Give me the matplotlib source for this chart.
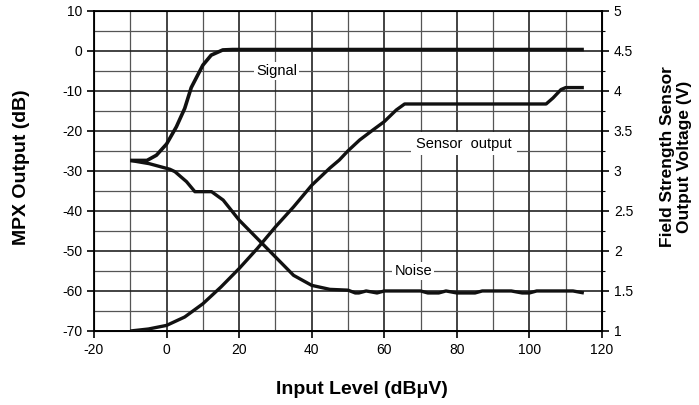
import matplotlib
matplotlib.use("Agg")
import matplotlib.pyplot as plt
from matplotlib.ticker import MultipleLocator, FuncFormatter

plt.rcParams['font.family'] = ['Liberation Sans', 'DejaVu Sans']
plt.rcParams['axes.unicode_minus'] = False

# Data
signal_x = [-10, -5.4, -2.8, 0, 2.7, 5, 6.8, 10, 12.3, 15.5, 18.2, 115]
signal_db = [-27.4, -27.4, -26.1, -23.3, -19, -14.4, -9.2, -3.6, -1.1, 0.2, 0.3, 0.3]

noise_x = [-10, -4.8, 0.9, 2.3, 5.5, 7.8, 12.4, 15.6, 20, 25, 30, 35, 40, 45, 50, 52, 53,
           55, 58, 60, 70, 72, 75, 77, 80, 85, 87, 95, 98, 100, 102, 112, 115]
noise_db = [-27.4, -28.2, -29.6, -30.2, -32.7, -35.2, -35.2, -37.3, -42.3, -46.9, -51.5,
            -56.1, -58.6, -59.6, -59.8, -60.5, -60.5, -60, -60.5, -60, -60, -60.5, -60.5,
            -60, -60.5, -60.5, -60, -60, -60.5, -60.5, -60, -60, -60.5]

sensor_x = [-10, -5, 0, 5, 10, 15, 20, 25, 30, 35, 40, 45, 47.6, 50, 53.2, 57, 60, 63.3,
            65.6, 104.6, 106.5, 108.7, 110, 115]
sensor_v = [1.0, 1.025, 1.07, 1.175, 1.34, 1.55, 1.78, 2.03, 2.3, 2.55, 2.82, 3.035, 3.135,
            3.25, 3.385, 3.515, 3.615, 3.76, 3.835, 3.835, 3.91, 4.015, 4.04, 4.04]

fig = plt.figure(figsize=(6.99, 4.05), dpi=100)
ax = fig.add_axes([94/699, 1-331/405, (602-94)/699, (331-10.7)/405])

ax.set_xlim(-20, 120)
ax.set_ylim(-70, 10)
ax.xaxis.set_major_locator(MultipleLocator(20))
ax.xaxis.set_minor_locator(MultipleLocator(10))
ax.yaxis.set_major_locator(MultipleLocator(10))
ax.yaxis.set_minor_locator(MultipleLocator(5))
ax.grid(which='major', color='#222222', lw=1.2, zorder=0)
ax.grid(which='minor', color='#555555', lw=0.9, zorder=0)
ax.tick_params(which='major', direction='out', length=5, width=1.2, labelsize=10, colors='black')
ax.tick_params(which='minor', direction='out', length=0)
for s in ax.spines.values():
    s.set_linewidth(1.3)

ax2 = ax.twinx()
ax2.set_ylim(1, 5)
ax2.yaxis.set_major_locator(MultipleLocator(0.5))
ax2.yaxis.set_minor_locator(MultipleLocator(0.25))
ax2.tick_params(which='major', direction='out', length=5, width=1.2, labelsize=10)
ax2.tick_params(which='minor', direction='out', length=2.5, width=0.8)
ax2.yaxis.set_major_formatter(FuncFormatter(lambda v, p: f"{v:g}"))

ax.plot(signal_x, signal_db, color='#111111', lw=2.6, solid_capstyle='butt', zorder=3)
ax.plot(noise_x, noise_db, color='#111111', lw=2.4, solid_capstyle='butt', zorder=3)
ax2.plot(sensor_x, sensor_v, color='#111111', lw=2.4, solid_capstyle='butt', zorder=3)

box = dict(facecolor='white', edgecolor='none', pad=1.5)
ax.text(30.3, -5, 'Signal', ha='center', va='center', fontsize=10.5, bbox=box, zorder=4)
ax.text(68, -55, 'Noise', ha='center', va='center', fontsize=10.5, bbox=box, zorder=4)
ax.text(82, -23.2, 'Sensor  output', ha='center', va='center', fontsize=10.5,
        bbox=dict(facecolor='white', edgecolor='none', pad=3.5), zorder=4)

fig.text(22/699, 1-167/405, 'MPX Output (dB)', rotation=90, ha='center', va='center',
         fontsize=14, fontweight='bold')
fig.text(676/699, 1-157/405, 'Field Strength Sensor\nOutput Voltage (V)', rotation=90,
         ha='center', va='center', fontsize=12.5, fontweight='bold', linespacing=1.15)
fig.text(362/699, 1-389/405, 'Input Level (dBμV)', ha='center', va='center',
         fontsize=14, fontweight='bold')

fig.savefig('out.png', dpi=100)
